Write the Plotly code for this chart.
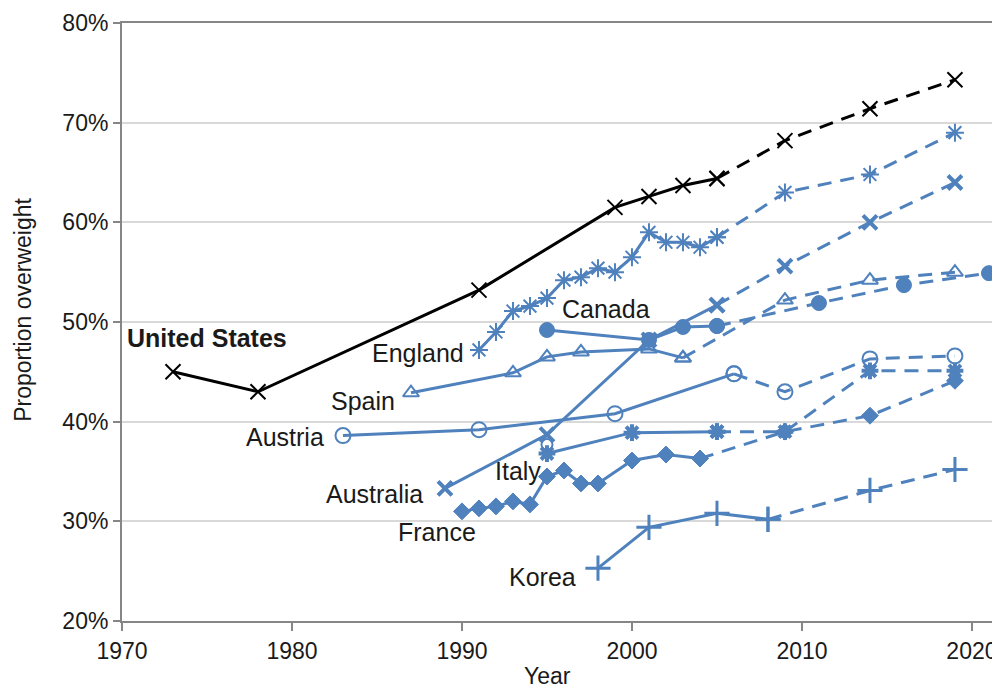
import plotly.graph_objects as go

BLUE = "#4F81BD"
BLACK = "#000000"

# ---------------- data ----------------
us_years = [1973, 1978, 1991, 1999, 2001, 2003, 2005]
us_vals = [45.0, 43.0, 53.2, 61.5, 62.6, 63.7, 64.4]
us_proj_years = [2005, 2009, 2014, 2019]
us_proj_vals = [64.4, 68.2, 71.4, 74.3]

eng_years = list(range(1991, 2006))
eng_vals = [47.2, 49.0, 51.1, 51.6, 52.4, 54.2, 54.5, 55.4, 55.0, 56.5, 59.0, 58.0, 58.0, 57.5, 58.5]
eng_proj_years = [2005, 2009, 2014, 2019]
eng_proj_vals = [58.5, 63.0, 64.8, 69.0]

aus_years = [1989, 1995, 2001, 2005]
aus_vals = [33.3, 38.7, 48.2, 51.7]
aus_proj_years = [2005, 2009, 2014, 2019]
aus_proj_vals = [51.7, 55.6, 60.0, 64.0]

can_years = [1995, 2001, 2003, 2005]
can_vals = [49.2, 48.2, 49.5, 49.6]
can_proj_years = [2005, 2011, 2016, 2021]
can_proj_vals = [49.6, 51.9, 53.7, 54.9]

spa_years = [1987, 1993, 1995, 1997, 2001, 2003]
spa_vals = [42.9, 44.9, 46.5, 47.0, 47.3, 46.4]
spa_proj_years = [2003, 2009, 2014, 2019]
spa_proj_vals = [46.4, 52.2, 54.2, 55.0]

aut_years = [1983, 1991, 1999, 2006]
aut_vals = [38.6, 39.2, 40.8, 44.8]
aut_proj_years = [2006, 2009, 2014, 2019]
aut_proj_vals = [44.8, 43.0, 46.3, 46.6]

ita_years = [1995, 2000, 2005]
ita_vals = [36.8, 38.9, 39.0]
ita_proj_years = [2005, 2009, 2014, 2019]
ita_proj_vals = [39.0, 39.0, 45.1, 45.1]
extra_years = [1995]
extra_vals = [37.7]

fra_years = [1990, 1991, 1992, 1993, 1994, 1995, 1996, 1997, 1998, 2000, 2002, 2004]
fra_vals = [31.0, 31.3, 31.5, 32.0, 31.7, 34.5, 35.1, 33.8, 33.8, 36.1, 36.7, 36.3]
fra_proj_years = [2004, 2009, 2014, 2019]
fra_proj_vals = [36.3, 39.0, 40.6, 44.1]

kor_years = [1998, 2001, 2005, 2008]
kor_vals = [25.3, 29.4, 30.8, 30.2]
kor_proj_years = [2008, 2014, 2019]
kor_proj_vals = [30.2, 33.1, 35.2]

y_ticks = [20, 30, 40, 50, 60, 70, 80]
y_tick_labels = ["20%", "30%", "40%", "50%", "60%", "70%", "80%"]
x_ticks = [1970, 1980, 1990, 2000, 2010, 2020]

# ---------------- figure ----------------
fig = go.Figure()
DASH = "14px,9px"


def add_series(xs, ys, pxs, pys, color, symbol, size, mlw):
    for xx, yy, dash in ((pxs, pys, DASH), (xs, ys, "solid")):
        marker = dict(symbol=symbol, size=size, color=color,
                      line=dict(color=color, width=mlw))
        fig.add_trace(go.Scatter(x=xx, y=yy, mode="lines+markers",
                                 line=dict(color=color, width=3, dash=dash),
                                 marker=marker, showlegend=False,
                                 hoverinfo="skip"))


add_series(kor_years, kor_vals, kor_proj_years, kor_proj_vals, BLUE, "cross-thin-open", 18, 3)
add_series(fra_years, fra_vals, fra_proj_years, fra_proj_vals, BLUE, "diamond", 13, 1)
add_series(ita_years, ita_vals, ita_proj_years, ita_proj_vals, BLUE, "asterisk-open", 14, 4)
fig.add_trace(go.Scatter(x=extra_years, y=extra_vals, mode="markers",
                         marker=dict(symbol="circle-open", size=11, color=BLUE,
                                     line=dict(color=BLUE, width=2)),
                         showlegend=False, hoverinfo="skip"))
add_series(aut_years, aut_vals, aut_proj_years, aut_proj_vals, BLUE, "circle-open", 15, 2)
add_series(spa_years, spa_vals, spa_proj_years, spa_proj_vals, BLUE, "triangle-up-open", 14, 2)
add_series(aus_years, aus_vals, aus_proj_years, aus_proj_vals, BLUE, "x-thin-open", 14, 4)
add_series(can_years, can_vals, can_proj_years, can_proj_vals, BLUE, "circle", 15, 1)
add_series(eng_years, eng_vals, eng_proj_years, eng_proj_vals, BLUE, "asterisk-open", 15, 2)
add_series(us_years, us_vals, us_proj_years, us_proj_vals, BLACK, "x-thin-open", 15, 2)

# ---------------- labels ----------------
FONT = "Liberation Sans, Arial, sans-serif"
TXT = "#1a1a1a"
labels = [
    ("<b>United States</b>", 1975.0, 48.4, "center"),
    ("England", 1990.25, 46.9, "right"),
    ("Canada", 1998.45, 51.3, "center"),
    ("Spain", 1986.2, 42.1, "right"),
    ("Austria", 1982.0, 38.45, "right"),
    ("Italy", 1994.75, 35.1, "right"),
    ("Australia", 1987.8, 32.7, "right"),
    ("France", 1990.95, 28.9, "right"),
    ("Korea", 1996.8, 24.4, "right"),
]
for text, lx, ly, anchor in labels:
    fig.add_annotation(x=lx, y=ly, text=text, showarrow=False, xanchor=anchor,
                       yanchor="middle", font=dict(family=FONT, size=25, color=TXT))

fig.add_annotation(x=0.485, xref="paper", y=-0.092, yref="paper", text="Year",
                   showarrow=False, xanchor="center", yanchor="middle",
                   font=dict(family=FONT, size=23, color=TXT))
fig.add_annotation(x=-0.113, xref="paper", y=0.52, yref="paper",
                   text="Proportion overweight", textangle=-90, showarrow=False,
                   xanchor="center", yanchor="middle",
                   font=dict(family=FONT, size=23, color=TXT))

AXIS = "#868686"
# page body has an 8px margin, so the figure is 8px smaller on each axis
fig.update_layout(
    width=992, height=681,
    margin=dict(l=114, r=0, t=15, b=68, autoexpand=False),
    paper_bgcolor="white", plot_bgcolor="white",
    font=dict(family=FONT, size=22, color=TXT),
    showlegend=False,
    xaxis=dict(range=[1970, 2021.65], tickvals=x_ticks,
               ticktext=[str(t) for t in x_ticks], automargin=False,
               showgrid=False, zeroline=False,
               showline=True, linecolor=AXIS, linewidth=2, mirror=True,
               ticks="outside", ticklen=8, tickcolor=AXIS, tickwidth=1.5,
               tickfont=dict(size=23, color=TXT)),
    yaxis=dict(range=[20, 80], tickvals=y_ticks, ticktext=y_tick_labels,
               automargin=False,
               showgrid=True, gridcolor="#d9d9d9", gridwidth=1.5, zeroline=False,
               showline=True, linecolor=AXIS, linewidth=2,
               ticks="outside", ticklen=7, tickcolor=AXIS, tickwidth=1.5,
               tickfont=dict(size=23, color=TXT)),
)

fig.write_html("out.html")
